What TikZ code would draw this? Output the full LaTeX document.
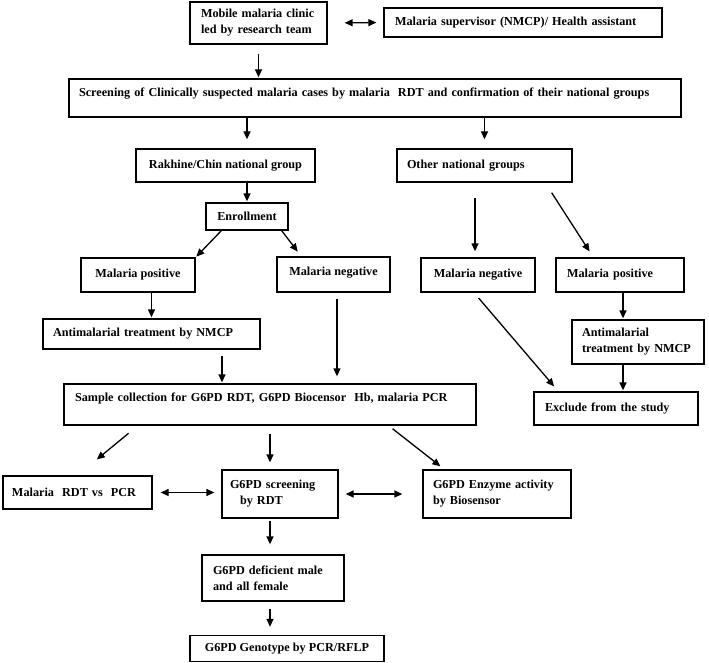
\documentclass[tikz,border=0pt]{standalone}
\usepackage{fontspec}
\setmainfont{Liberation Serif}
\usetikzlibrary{arrows.meta}

\begin{document}
\begin{tikzpicture}[x=1pt,y=-1pt,
    box/.style={draw=black, line width=1.3pt, inner ysep=0pt, font=\fontsize{12.2}{16}\selectfont\bfseries},
    arr/.style={line width=1.3pt, -{Triangle[length=8pt,width=7pt]}},
    darr/.style={line width=1.3pt, {Triangle[length=8pt,width=7pt]}-{Triangle[length=8pt,width=7pt]}}]
    \useasboundingbox (0,0) rectangle (709,663);
    \node[box, minimum width=137pt, minimum height=42pt, inner xsep=11pt, text width=115pt, align=left] (mobile) at (258.5,23) {Mobile malaria clinic\\led by research team};
    \node[box, minimum width=278pt, minimum height=29pt, inner xsep=11pt, text width=256pt, align=left] (superv) at (523,22.5) {Malaria supervisor (NMCP)/ Health assistant};
    \node[box, minimum width=612pt, minimum height=38pt, inner xsep=10pt, text width=592pt, align=left, text depth=10.7pt] (screen) at (375,98) {Screening of Clinically suspected malaria cases by malaria~ RDT and confirmation of their national groups};
    \node[box, minimum width=179pt, minimum height=33pt] (rakhine) at (225.5,165.5) {Rakhine/Chin national group};
    \node[box, minimum width=175pt, minimum height=33pt, inner xsep=10pt, text width=155pt, align=left] (other) at (484.5,165.5) {Other national groups};
    \node[box, minimum width=82pt, minimum height=27pt] (enroll) at (247,216.5) {Enrollment};
    \node[box, minimum width=114pt, minimum height=34pt] (mposL) at (138,275) {Malaria positive};
    \node[box, minimum width=113pt, minimum height=35pt, text depth=7pt] (mnegL) at (333.5,274.5) {Malaria negative};
    \node[box, minimum width=114pt, minimum height=34pt] (mnegR) at (478,275) {Malaria negative};
    \node[box, minimum width=128pt, minimum height=34pt, inner xsep=11pt, text width=106pt, align=left] (mposR) at (620,275) {Malaria positive};
    \node[box, minimum width=217pt, minimum height=30pt, inner xsep=10pt, text width=197pt, align=left] (treatL) at (151.5,334) {Antimalarial treatment by NMCP};
    \node[box, minimum width=132pt, minimum height=44pt, inner xsep=10pt, text width=112pt, align=left] (treatR) at (638,342) {Antimalarial\\treatment by NMCP};
    \node[box, minimum width=412pt, minimum height=41pt, inner xsep=11pt, text width=390pt, align=left, text depth=14.7pt] (sample) at (270,404.5) {Sample collection for G6PD RDT, G6PD Biocensor~ Hb, malaria PCR};
    \node[box, minimum width=164pt, minimum height=33pt, inner xsep=11pt, text width=142pt, align=left] (exclude) at (616,408.5) {Exclude from the study};
    \node[box, minimum width=149pt, minimum height=33pt, inner xsep=9pt, text width=131pt, align=left] (rdtpcr) at (77.5,492.5) {Malaria~ RDT vs~ PCR};
    \node[box, minimum width=116pt, minimum height=48pt, inner xsep=8pt, text width=100pt, align=left] (g6scr) at (280,494) {G6PD screening\\\hspace*{10pt}by RDT};
    \node[box, minimum width=148pt, minimum height=48pt, inner xsep=10pt, text width=128pt, align=left] (enzyme) at (497,494) {G6PD Enzyme activity\\by Biosensor};
    \node[box, minimum width=142pt, minimum height=46pt, inner xsep=11pt, text width=120pt, align=left] (defic) at (273,578) {G6PD deficient male\\and all female};
    \node[box, minimum width=194pt, minimum height=26pt] (genotype) at (287,648.5) {G6PD Genotype by PCR/RFLP};

    \draw[darr, shorten <=17pt, shorten >=7pt] (mobile.east) -- (superv.west);
    \draw[arr, shorten <=9pt, shorten >=1pt] (mobile.south) -- (mobile.south |- screen.north);
    \draw[arr, shorten >=9pt] (screen.south -| enroll.north) -- (rakhine.north -| enroll.north);
    \draw[arr, shorten >=9pt] (screen.south -| other.north) -- (other.north);
    \draw[arr, shorten >=1pt] (rakhine.south -| enroll.north) -- (enroll.north);
    \draw[arr, shorten >=1pt] ([xshift=16pt]enroll.south west) -- (mposL.north east);
    \draw[arr, shorten >=6pt] ([xshift=-7pt]enroll.south east) -- ([xshift=25pt]mnegL.north west);
    \draw[arr, shorten <=15pt, shorten >=6pt] ([xshift=-3pt]mnegR.north |- other.south) -- ([xshift=-3pt]mnegR.north);
    \draw[arr, shorten <=12pt, shorten >=7pt] ([xshift=-27.5pt]other.south east) -- ([xshift=38pt]mposR.north west);
    \draw[arr, shorten >=1pt] (mposL.south -| treatL.north) -- (treatL.north);
    \draw[arr, shorten <=6pt, shorten >=1pt] ([xshift=-48pt]sample.north |- treatL.south) -- ([xshift=-48pt]sample.north);
    \draw[arr, shorten <=6pt, shorten >=7pt] ([xshift=3.5pt]mnegL.south) -- ([xshift=3.5pt]mnegL.south |- sample.north);
    \draw[arr, shorten <=7pt, shorten >=6.5pt] ([xshift=-4pt]mnegR.south) -- ([xshift=25pt]exclude.north west);
    \draw[arr, shorten >=1pt] ([xshift=3pt]mposR.south) -- ([xshift=3pt]mposR.south |- treatR.north);
    \draw[arr, shorten >=1pt] ([xshift=3pt]mposR.south |- treatR.south) -- ([xshift=3pt]mposR.south |- exclude.north);
    \draw[arr, shorten <=12pt, shorten >=25pt] ([xshift=74.5pt]sample.south west) -- (rdtpcr.north);
    \draw[arr, shorten <=8pt, shorten >=7pt] (sample.south) -- (sample.south |- g6scr.north);
    \draw[arr, shorten <=5pt, shorten >=5pt] ([xshift=-88pt]sample.south east) -- ([xshift=22pt]enzyme.north west);
    \draw[darr, shorten <=8pt, shorten >=7pt] (rdtpcr.east) -- (rdtpcr.east -| g6scr.west);
    \draw[darr, shorten <=7pt, shorten >=20pt] (g6scr.east) -- (enzyme.west);
    \draw[arr, shorten <=2pt, shorten >=10pt] (sample.south |- g6scr.south) -- (sample.south |- defic.north);
    \draw[arr, shorten <=7pt, shorten >=8pt] (sample.south |- defic.south) -- (sample.south |- genotype.north);
\end{tikzpicture}
\end{document}
